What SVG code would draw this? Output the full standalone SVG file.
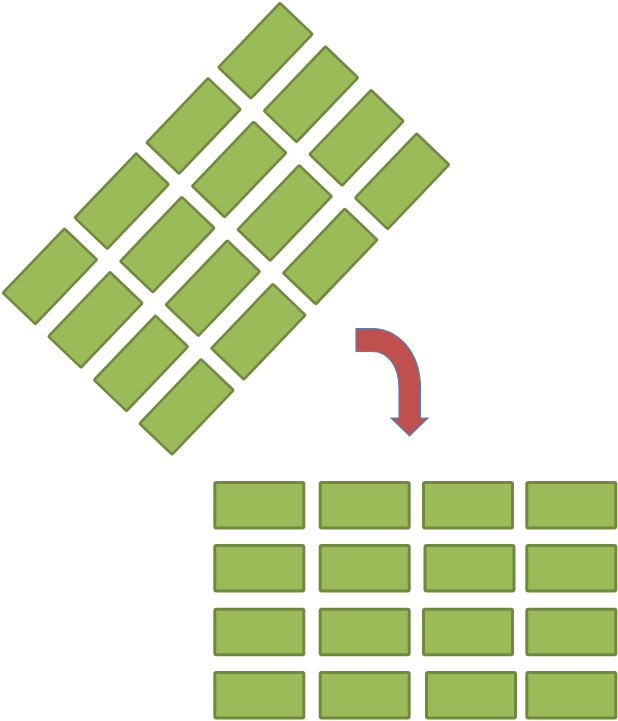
<svg xmlns="http://www.w3.org/2000/svg" width="618" height="721" viewBox="0 0 618 721">
<style>
.tile{fill:#9BBB59;stroke:#71893F;stroke-width:3;}
.rt{fill:#9BBB59;stroke:#71893F;stroke-width:2.6;}
.arrow{fill:#C0504D;stroke:#4F81BD;stroke-width:1.2;stroke-linejoin:miter;}
</style>
<rect width="618" height="721" fill="#FFFFFF"/>
<g id="rotated-grid" transform="translate(226,228.8) rotate(-46.3)">
  <g id="r-0-0"><rect class="rt" x="-200.5" y="-117" width="89" height="45" rx="1"/></g>
  <g id="r-0-1"><rect class="rt" x="-96.5" y="-117" width="89" height="45" rx="1"/></g>
  <g id="r-0-2"><rect class="rt" x="7.5" y="-117" width="89" height="45" rx="1"/></g>
  <g id="r-0-3"><rect class="rt" x="111.5" y="-117" width="89" height="45" rx="1"/></g>
  <g id="r-1-0"><rect class="rt" x="-200.5" y="-54" width="89" height="45" rx="1"/></g>
  <g id="r-1-1"><rect class="rt" x="-96.5" y="-54" width="89" height="45" rx="1"/></g>
  <g id="r-1-2"><rect class="rt" x="7.5" y="-54" width="89" height="45" rx="1"/></g>
  <g id="r-1-3"><rect class="rt" x="111.5" y="-54" width="89" height="45" rx="1"/></g>
  <g id="r-2-0"><rect class="rt" x="-200.5" y="9" width="89" height="45" rx="1"/></g>
  <g id="r-2-1"><rect class="rt" x="-96.5" y="9" width="89" height="45" rx="1"/></g>
  <g id="r-2-2"><rect class="rt" x="7.5" y="9" width="89" height="45" rx="1"/></g>
  <g id="r-2-3"><rect class="rt" x="111.5" y="9" width="89" height="45" rx="1"/></g>
  <g id="r-3-0"><rect class="rt" x="-200.5" y="72" width="89" height="45" rx="1"/></g>
  <g id="r-3-1"><rect class="rt" x="-96.5" y="72" width="89" height="45" rx="1"/></g>
  <g id="r-3-2"><rect class="rt" x="7.5" y="72" width="89" height="45" rx="1"/></g>
  <g id="r-3-3"><rect class="rt" x="111.5" y="72" width="89" height="45" rx="1"/></g>
</g>
<g id="connectors">
  <g id="arrow">
    <path class="arrow" d="M356,328.5 L372,328.5 C398,328.5 420.5,352 420.5,388 L420.5,418 L428,418 L409.5,436 L391,418 L399,418 L399,388 C399,366 388,351.5 372,351.5 L356,351.5 Z"/>
  </g>
</g>
<g id="aligned-grid">
  <g id="a-0-0"><rect class="tile" x="214.8" y="482.5" width="89" height="45.5" rx="1.5"/></g>
  <g id="a-0-1"><rect class="tile" x="320.2" y="482.5" width="89" height="45.5" rx="1.5"/></g>
  <g id="a-0-2"><rect class="tile" x="423.5" y="482.5" width="89" height="45.5" rx="1.5"/></g>
  <g id="a-0-3"><rect class="tile" x="526.8" y="482.5" width="89" height="45.5" rx="1.5"/></g>
  <g id="a-1-0"><rect class="tile" x="214.8" y="545.5" width="89" height="45.5" rx="1.5"/></g>
  <g id="a-1-1"><rect class="tile" x="320.2" y="545.5" width="89" height="45.5" rx="1.5"/></g>
  <g id="a-1-2"><rect class="tile" x="425" y="545.5" width="89" height="45.5" rx="1.5"/></g>
  <g id="a-1-3"><rect class="tile" x="526.8" y="545.5" width="89" height="45.5" rx="1.5"/></g>
  <g id="a-2-0"><rect class="tile" x="214.8" y="609.2" width="89" height="45.5" rx="1.5"/></g>
  <g id="a-2-1"><rect class="tile" x="320.2" y="609.2" width="89" height="45.5" rx="1.5"/></g>
  <g id="a-2-2"><rect class="tile" x="423.5" y="609.2" width="89" height="45.5" rx="1.5"/></g>
  <g id="a-2-3"><rect class="tile" x="526.8" y="609.2" width="89" height="45.5" rx="1.5"/></g>
  <g id="a-3-0"><rect class="tile" x="214.8" y="672.5" width="89" height="45.5" rx="1.5"/></g>
  <g id="a-3-1"><rect class="tile" x="320.2" y="672.5" width="89" height="45.5" rx="1.5"/></g>
  <g id="a-3-2"><rect class="tile" x="426.5" y="672.5" width="89" height="45.5" rx="1.5"/></g>
  <g id="a-3-3"><rect class="tile" x="526.8" y="672.5" width="89" height="45.5" rx="1.5"/></g>
</g>
</svg>
